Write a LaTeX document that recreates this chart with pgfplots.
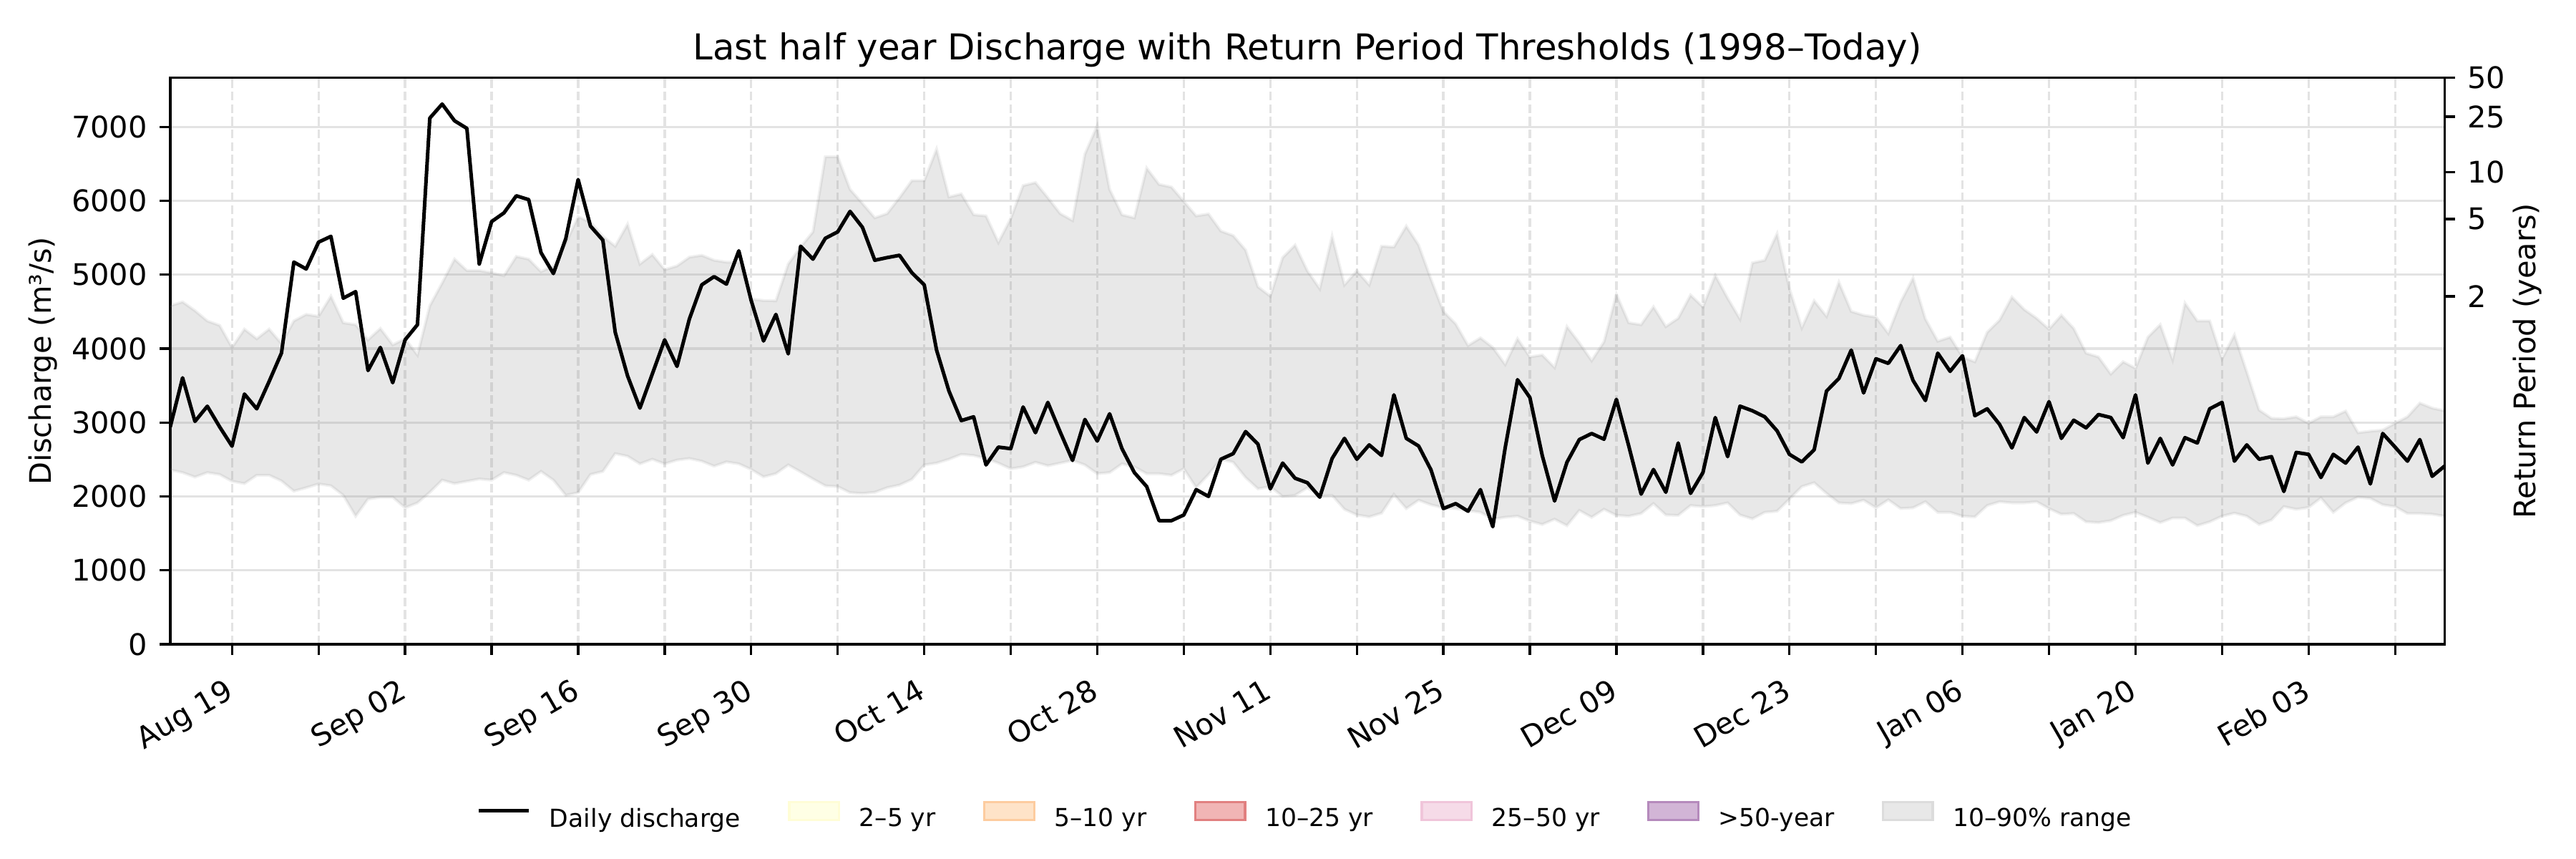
\documentclass[border=0pt]{standalone}
\usepackage{fontspec}
\setmainfont{DejaVu Sans}
\usepackage{pgfplots}
\usepackage{pgfplotstable}
\pgfplotsset{compat=1.18}
\usepgfplotslibrary{fillbetween}

\definecolor{f25}{HTML}{FFFFE5}  \definecolor{e25}{HTML}{FFFDD6}
\definecolor{f510}{HTML}{FEE3C8} \definecolor{e510}{HTML}{FDCC9F}
\definecolor{f1025}{HTML}{F1B5B5}\definecolor{e1025}{HTML}{E18080}
\definecolor{f2550}{HTML}{F6DBE8}\definecolor{e2550}{HTML}{F0C5DA}
\definecolor{f50}{HTML}{D2B5D6}  \definecolor{e50}{HTML}{B58ABC}
\definecolor{frng}{HTML}{E8E8E8} \definecolor{erng}{HTML}{DCDCDC}
\definecolor{gridc}{HTML}{E3E3E3}

% day 0 = Aug 14; q = daily discharge, lo/hi = 10-90% range
\pgfplotstableread{
d q lo hi
0 2940 2359 4580
1 3605 2323 4631
2 3015 2262 4513
3 3220 2323 4374
4 2940 2297 4313
5 2680 2205 4015
6 3385 2174 4262
7 3185 2287 4133
8 3555 2287 4262
9 3940 2210 4067
10 5170 2072 4374
11 5077 2118 4462
12 5440 2169 4436
13 5518 2144 4708
14 4682 2015 4349
15 4770 1733 4323
16 3703 1964 4118
17 4015 1990 4272
18 3538 1990 4051
19 4118 1846 4133
20 4323 1913 3913
21 7118 2056 4579
22 7308 2221 4887
23 7082 2174 5210
24 6979 2205 5056
25 5144 2236 5056
26 5718 2221 5026
27 5836 2323 4985
28 6067 2287 5246
29 6015 2221 5210
30 5297 2338 5041
31 5015 2221 5118
32 5487 2015 5426
33 6287 2051 5785
34 5656 2297 5708
35 5467 2338 5518
36 4221 2579 5385
37 3631 2544 5682
38 3195 2441 5144
39 3656 2503 5272
40 4118 2441 5067
41 3759 2492 5118
42 4400 2513 5236
43 4862 2477 5262
44 4974 2410 5195
45 4872 2467 5169
46 5323 2441 5169
47 4650 2365 4670
48 4103 2265 4650
49 4462 2308 4646
50 3928 2426 5144
51 5385 2333 5374
52 5210 2236 5579
53 5492 2144 6595
54 5579 2133 6595
55 5856 2051 6154
56 5641 2041 5964
57 5195 2056 5769
58 5231 2118 5826
59 5262 2154 6041
60 5026 2231 6272
61 4862 2426 6272
62 3979 2451 6697
63 3426 2503 6051
64 3026 2569 6092
65 3077 2554 5810
66 2426 2513 5795
67 2667 2451 5436
68 2646 2374 5759
69 3210 2400 6205
70 2862 2462 6246
71 3272 2415 6041
72 2872 2451 5826
73 2487 2487 5733
74 3041 2426 6631
75 2749 2308 7015
76 3118 2323 6154
77 2646 2441 5810
78 2323 2400 5769
79 2133 2308 6441
80 1672 2308 6221
81 1672 2287 6185
82 1749 2374 5990
83 2092 2120 5795
84 2000 2297 5821
85 2503 2503 5590
86 2579 2462 5528
87 2877 2256 5333
88 2708 2103 4836
89 2103 2133 4708
90 2451 2000 5231
91 2246 2015 5400
92 2185 2118 5051
93 1990 2005 4810
94 2513 2015 5518
95 2785 1826 4862
96 2503 1750 5051
97 2697 1723 4862
98 2554 1774 5385
99 3374 2026 5374
100 2785 1836 5656
101 2682 1949 5400
102 2359 1887 4938
103 1836 1846 4503
104 1903 1836 4333
105 1800 1810 4041
106 2092 1785 4144
107 1590 1692 4015
108 2656 1718 3785
109 3579 1733 4133
110 3338 1667 3887
111 2554 1621 3913
112 1938 1692 3744
113 2462 1605 4297
114 2769 1810 4077
115 2851 1718 3836
116 2774 1826 4092
117 3313 1744 4733
118 2682 1733 4349
119 2031 1769 4323
120 2364 1903 4564
121 2056 1749 4297
122 2723 1744 4410
123 2041 1877 4723
124 2323 1862 4564
125 3067 1877 4990
126 2538 1913 4682
127 3221 1749 4400
128 3159 1697 5159
129 3077 1785 5195
130 2887 1800 5554
131 2569 1964 4810
132 2467 2133 4282
133 2631 2185 4646
134 3426 2041 4436
135 3595 1913 4897
136 3979 1903 4503
137 3400 1949 4451
138 3862 1846 4426
139 3800 1954 4205
140 4041 1836 4631
141 3569 1846 4954
142 3297 1928 4400
143 3938 1785 4100
144 3692 1785 4154
145 3903 1733 3887
146 3092 1723 3821
147 3185 1877 4221
148 2974 1928 4385
149 2656 1913 4697
150 3067 1913 4528
151 2872 1928 4410
152 3282 1836 4262
153 2785 1759 4451
154 3031 1769 4272
155 2928 1656 3938
156 3108 1646 3887
157 3067 1672 3656
158 2795 1744 3821
159 3374 1785 3733
160 2451 1718 4154
161 2785 1646 4323
162 2426 1708 3851
163 2795 1708 4615
164 2723 1605 4374
165 3185 1656 4374
166 3272 1733 3862
167 2477 1774 4185
168 2697 1733 3682
169 2503 1621 3169
170 2538 1682 3056
171 2067 1862 3051
172 2595 1826 3077
173 2569 1851 2990
174 2256 1979 3077
175 2569 1785 3077
176 2451 1913 3154
177 2667 1990 2862
178 2169 1974 2882
179 2851 1887 2897
180 2667 1862 2990
181 2477 1769 3077
182 2769 1769 3262
183 2272 1759 3195
184 2410 1733 3159
}\flow

\newcommand\patch[2]{\addlegendimage{legend image code/.code={%
  \draw[fill=#1,draw=#2,line width=0.8bp] (0bp,-0.1bp) rectangle (16.7bp,5.9bp);}}}

\begin{document}
\begin{tikzpicture}
\begin{axis}[
  scale only axis, width=762.8bp, height=190bp,
  xmin=0, xmax=184, ymin=0, ymax=7667,
  axis line style={line width=0.8bp},
  tick style={line width=0.8bp, black},
  major tick length=3.5bp, tick align=outside,
  xtick pos=left, ytick pos=left,
  xtick={5,12,...,180},
  xticklabels={Aug 19,{},Sep 02,{},Sep 16,{},Sep 30,{},Oct 14,{},Oct 28,{},Nov 11,{},Nov 25,{},Dec 09,{},Dec 23,{},Jan 06,{},Jan 20,{},Feb 03,{}},
  xticklabel style={xshift=-2.6bp, yshift=-7.5bp, rotate=30, anchor=north east, inner sep=0pt},
  ytick={0,1000,...,7000},
  yticklabel style={anchor=east, inner sep=0pt, xshift=-4bp},
  /pgf/number format/assume math mode=true,
  /pgf/number format/1000 sep={},
  scaled y ticks=false,
  xmajorgrids, ymajorgrids,
  x grid style={gridc, line width=0.8bp, dash pattern=on 2.96bp off 1.28bp},
  y grid style={gridc, line width=0.8bp},
  title={Last half year Discharge with Return Period Thresholds (1998–Today)},
  every axis title/.style={at={(0.5,1)}, anchor=base, yshift=6bp, font=\fontsize{12}{14.4}\selectfont},
  ylabel={Discharge (m³/s)},
  ylabel style={at={(axis description cs:-0.05585,0.5)}, anchor=center},
  legend columns=7,
  legend cell align=left,
  legend style={at={(0.5,-0.3084)}, anchor=center, draw=none, fill=none,
    font=\fontsize{8.33}{10}\selectfont,
    /tikz/every odd column/.append style={column sep=4.4bp},
    /tikz/every even column/.append style={column sep=13.9bp}},
]
\addplot[draw=gray, draw opacity=0.12, line width=1bp, name path=hi, forget plot] table[x=d,y=hi]{\flow};
\addplot[draw=gray, draw opacity=0.12, line width=1bp, name path=lo, forget plot] table[x=d,y=lo]{\flow};
\addplot[fill=gray, fill opacity=0.18, draw=none, forget plot] fill between[of=hi and lo];
\addplot[black, line width=1.2bp, line join=round,
  legend image code/.code={\draw[black, line width=1.2bp] (0bp,2.9bp) -- (16.7bp,2.9bp);}]
  table[x=d,y=q]{\flow};
\addlegendentry{Daily discharge}
\patch{f25}{e25}\addlegendentry{2–5 yr}
\patch{f510}{e510}\addlegendentry{5–10 yr}
\patch{f1025}{e1025}\addlegendentry{10–25 yr}
\patch{f2550}{e2550}\addlegendentry{25–50 yr}
\patch{f50}{e50}\addlegendentry{>50-year}
\patch{frng}{erng}\addlegendentry{10–90\% range}
\end{axis}
\begin{axis}[
  scale only axis, width=762.8bp, height=190bp,
  xmin=0, xmax=184, ymin=0, ymax=7667,
  axis x line=none, axis y line*=right,
  axis line style={line width=0.8bp},
  tick style={line width=0.8bp, black},
  major tick length=3.5bp, tick align=outside,
  ytick={4708,5754,6385,7138,7667},
  yticklabels={2,5,10,25,50},
  yticklabel style={anchor=west, inner sep=0pt, xshift=4bp},
  ylabel={Return Period (years)},
  ylabel style={at={(axis description cs:1.0365,0.5)}, anchor=center},
]
\addplot[draw=none] coordinates {(0,0) (184,7667)};
\end{axis}
\pgfresetboundingbox
\path[use as bounding box] (-57.1bp,-72bp) rectangle (806.9bp,216bp);
\end{tikzpicture}
\end{document}
